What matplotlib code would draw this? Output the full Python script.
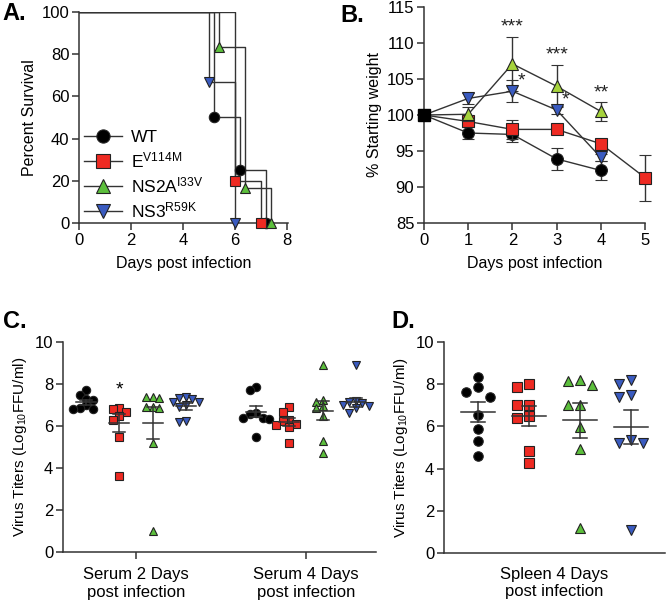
import numpy as np
import matplotlib
matplotlib.use("Agg")
import matplotlib.pyplot as plt
from matplotlib.lines import Line2D

plt.rcParams['font.family'] = ['Liberation Sans', 'DejaVu Sans']
plt.rcParams['mathtext.fontset'] = 'custom'
plt.rcParams['mathtext.rm'] = 'Liberation Sans'
plt.rcParams['mathtext.it'] = 'Liberation Sans:italic'

GROUPS = ["WT", r"E$^{\mathrm{V114M}}$", r"NS2A$^{\mathrm{I33V}}$", r"NS3$^{\mathrm{R59K}}$"]
COLORS = ["black", "#ee2a22", "#5cbf3c", "#3a5bc0"]
COLORS_B = ["black", "#ee2a22", "#a6d33c", "#3a5bc0"]
MARKERS = ["o", "s", "^", "v"]
AX_COL = "#333333"

# A: survival (day of each drop, % surviving after it)
surv_days = [[0, 5.2, 6.2, 7.2], [0, 6.0, 7.0], [0, 5.4, 6.4, 7.4], [0, 5.0, 6.0]]
surv_pct = [[100, 50, 25, 0], [100, 20, 0], [100, 83.3, 16.7, 0], [100, 66.7, 0]]

# B: weight
wt_days = [0, 1, 2, 3, 4, 5]
weight = [[100, 97.5, 97.3, 93.9, 92.3],
          [100, 99.1, 98.0, 98.0, 96.0, 91.3],
          [100, 100.1, 107.1, 104.0, 100.5],
          [100, 102.3, 103.3, 100.7, 94.1]]
weight_sem = [[0, 0.8, 1.0, 1.5, 1.3],
              [0, 0.5, 1.3, 0.4, 0.4, 3.2],
              [0, 1.0, 3.7, 2.9, 1.3],
              [0, 0.8, 1.5, 0.5, 0.5]]
star_x = [2, 2.2, 3, 3.2, 4]
star_y = [112.2, 104.7, 108.4, 102.1, 103.0]
star_txt = ["***", "*", "***", "*", "**"]

# C: serum titers
serum_labels = ["Serum 2 Days\npost infection", "Serum 4 Days\npost infection"]
serum_d2 = [[7.7, 7.5, 7.3, 7.25, 7.0, 6.85, 6.8, 6.8],
            [6.85, 6.8, 6.65, 6.5, 6.3, 5.5, 3.6],
            [7.4, 7.35, 7.4, 6.9, 6.85, 6.9, 5.2, 1.0],
            [7.35, 7.4, 7.3, 7.15, 7.15, 7.0, 6.9, 6.2, 6.25]]
serum_d4 = [[7.85, 7.7, 6.6, 6.55, 6.4, 6.4, 6.35, 5.5],
            [6.9, 6.65, 6.3, 6.25, 6.1, 6.05, 5.95, 5.2],
            [8.9, 7.25, 7.15, 6.95, 6.85, 6.5, 5.3, 4.7],
            [8.9, 7.2, 7.15, 7.1, 7.0, 6.95, 6.85, 6.6]]
serum_mean = [[7.13, 6.13, 6.13, 6.93], [6.67, 6.2, 6.73, 7.12]]
serum_sem = [[0.13, 0.42, 0.77, 0.15], [0.26, 0.18, 0.45, 0.22]]

# D: spleen titers
spleen_label = ["Spleen 4 Days\npost infection"]
spleen = [[8.35, 7.85, 7.65, 7.4, 6.55, 5.9, 5.3, 4.6],
          [7.85, 8.0, 7.0, 7.0, 6.4, 6.5, 4.85, 4.25],
          [8.2, 7.95, 8.15, 7.0, 7.0, 5.95, 4.95, 1.2],
          [8.0, 8.2, 7.4, 7.5, 5.35, 5.2, 5.2, 1.1]]
spleen_mean = [6.67, 6.5, 6.29, 5.96]
spleen_sem = [0.48, 0.46, 0.84, 0.8]


def style(ax):
    for s in ["top", "right"]:
        ax.spines[s].set_visible(False)
    for s in ["left", "bottom"]:
        ax.spines[s].set_color(AX_COL)
        ax.spines[s].set_linewidth(1.1)
    ax.tick_params(direction="out", length=5, width=1.1, color=AX_COL,
                   labelsize=12, pad=2)


def swarm(vals, y_px, d_px, step_px):
    # simple beeswarm: shift points sideways until they stop overlapping
    vals = np.asarray(vals, dtype=float)
    ys = vals * y_px
    offs = np.zeros(len(vals))
    done = []
    for i in np.argsort(-vals):
        for k in [0, -1, 1, -2, 2, -3, 3]:
            x = k * step_px
            if all((x - offs[j]) ** 2 + (ys[i] - ys[j]) ** 2 >= d_px ** 2 for j in done):
                break
        offs[i] = x
        done.append(i)
    return offs


def scatter_group(ax, x0, vals, g, y_px, x_px, d_px, step_px, ms, mean, sem, half, cap):
    offs = swarm(vals, y_px, d_px, step_px) / x_px
    ax.plot(x0 + offs, vals, MARKERS[g], color=COLORS[g], mec="#222222", mew=0.8,
            ms=ms, ls="none", clip_on=False, zorder=3)
    lc = "#333333"
    ax.plot([x0 - half, x0 + half], [mean, mean], color=lc, lw=1.1, zorder=4)
    ax.plot([x0, x0], [mean - sem, mean + sem], color=lc, lw=1.1, zorder=4)
    for yy in (mean - sem, mean + sem):
        ax.plot([x0 - cap, x0 + cap], [yy, yy], color=lc, lw=1.1, zorder=4)


W, H = 666, 604
fig = plt.figure(figsize=(W / 100, H / 100), dpi=100)


def add_ax(l, r, t, b):
    return fig.add_axes([l / W, 1 - b / H, (r - l) / W, (b - t) / H])


# ---------------- A ----------------
axA = add_ax(79, 288, 12, 223)
for g in range(4):
    axA.step(surv_days[g], surv_pct[g], where="post", color="#333333", lw=1.0, zorder=2)
    axA.plot(surv_days[g][1:], surv_pct[g][1:], MARKERS[g], color=COLORS[g],
             mec="#222222", mew=0.8, ms=7.5, clip_on=False, zorder=3)
axA.set_xlim(0, 8.05)
axA.set_ylim(0, 100)
axA.set_xticks([0, 2, 4, 6, 8])
axA.set_yticks([0, 20, 40, 60, 80, 100])
style(axA)
axA.set_xlabel("Days post infection", fontsize=11.5, labelpad=6)
axA.set_ylabel("Percent Survival", fontsize=11.5, labelpad=3)
handles = [Line2D([], [], color="#333333", lw=1.0, marker=MARKERS[g], mfc=COLORS[g],
                  mec="#222222", mew=0.8, ms=9.5) for g in range(4)]
axA.legend(handles, GROUPS, loc="lower left", bbox_to_anchor=(-0.01, -0.02),
           frameon=False, fontsize=12.5, handlelength=2.2, handletextpad=0.5,
           labelspacing=0.3, borderaxespad=0)

# ---------------- B ----------------
axB = add_ax(424, 645, 7, 223)
for g in range(4):
    n = len(weight[g])
    axB.errorbar(wt_days[:n], weight[g], yerr=weight_sem[g], color="#333333", lw=1.0,
                 elinewidth=1.0, capsize=4, capthick=1.0, marker=MARKERS[g],
                 mfc=COLORS_B[g], mec="#222222", mew=0.8, ms=8.5, markevery=range(1, n),
                 clip_on=False, zorder=3 + g)
axB.plot(wt_days[0], weight[0][0], "s", color="black", ms=8.5, zorder=8, clip_on=False)
for x, y, t in zip(star_x, star_y, star_txt):
    axB.text(x, y, t, ha="center", va="center", fontsize=14, color="#222222")
axB.set_xlim(0, 5)
axB.set_ylim(85, 115)
axB.set_xticks(range(6))
axB.set_yticks(range(85, 116, 5))
style(axB)
axB.set_xlabel("Days post infection", fontsize=11.5, labelpad=6)
axB.set_ylabel("% Starting weight", fontsize=11.5, labelpad=3)

# ---------------- C ----------------
axC = add_ax(63, 376, 342, 552)
spacing = 33.3 / 170
for d, data in enumerate([serum_d2, serum_d4]):
    for g in range(4):
        x0 = 1 + d + (g - 1.5) * spacing
        scatter_group(axC, x0, data[g], g, 20.94, 170, 6.0, 6.5, 6.0,
                      serum_mean[d][g], serum_sem[d][g], 10 / 170, 6 / 170)
axC.text(1 - 0.5 * spacing, 7.7, "*", ha="center", va="center", fontsize=14)
axC.set_xlim(1 - 73 / 170, 1 + 240 / 170)
axC.set_ylim(0, 10)
axC.set_xticks([1, 2])
axC.set_xticklabels(serum_labels)
axC.set_yticks(range(0, 11, 2))
style(axC)
axC.tick_params(axis="x", labelsize=12, pad=6)
axC.set_ylabel(r"Virus Titers (Log$_{\mathrm{10}}$FFU/ml)", fontsize=11, labelpad=4)

# ---------------- D ----------------
axD = add_ax(444, 665, 342, 553)
for g in range(4):
    scatter_group(axD, 1 + g, spleen[g], g, 21.1, 51, 9.5, 12, 6.8,
                  spleen_mean[g], spleen_sem[g], 17 / 51, 7 / 51)
axD.set_xlim(1 - 34 / 51, 4 + 34 / 51)
axD.set_ylim(0, 10)
axD.set_xticks([2.5])
axD.set_xticklabels(spleen_label)
axD.set_yticks(range(0, 11, 2))
style(axD)
axD.tick_params(axis="x", length=0, labelsize=12, pad=10)
axD.set_ylabel(r"Virus Titers (Log$_{\mathrm{10}}$FFU/ml)", fontsize=11, labelpad=4)

# panel letters
for txt, x, y in [("A.", 2, 14), ("B.", 340, 15), ("C.", 3, 322), ("D.", 391, 322)]:
    fig.text(x / W, 1 - y / H, txt, fontsize=17, fontweight="bold", ha="left", va="center")

fig.savefig("out.png", dpi=100)
